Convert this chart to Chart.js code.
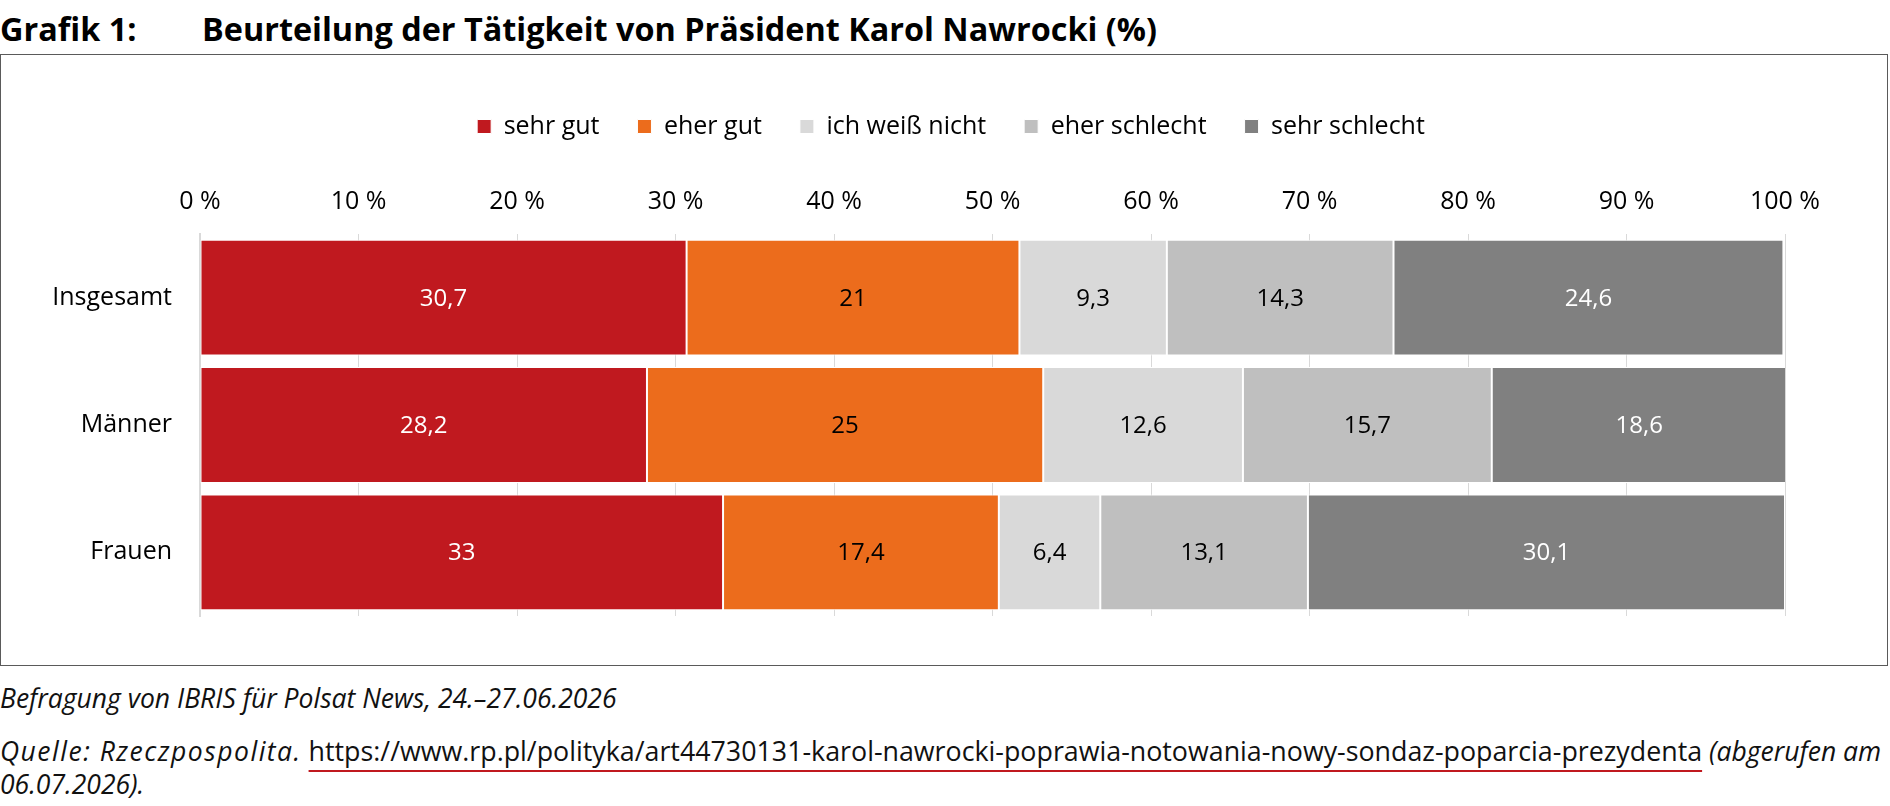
<!DOCTYPE html>
<html lang="de">
<head>
<meta charset="utf-8">
<title>Grafik 1</title>
<script src="https://cdn.jsdelivr.net/npm/chart.js@4/dist/chart.umd.min.js"></script>
<style>
  html, body { margin: 0; padding: 0; background: #fff; }
  body { width: 1890px; height: 806px; position: relative; overflow: hidden; font-family: "Open Sans", sans-serif; color: #000; }
  .title { position: absolute; top: 8px; font-weight: 700; font-size: 32.4px; line-height: 40px; white-space: nowrap; }
  #box { position: absolute; left: 0; top: 54px; width: 1886px; height: 610px; border: 1.5px solid #5a5a5a; }
  #box canvas { display: block; }
  .foot { position: absolute; left: 0; font-size: 26.5px; line-height: 33px; font-style: italic; white-space: nowrap; color: #111; }
  .foot .src { letter-spacing: 1.5px; }
  .foot a { font-style: normal; font-size: 26.8px; color: #111; text-decoration: underline; text-decoration-color: #C0191F; text-underline-offset: 9px; text-decoration-thickness: 1.5px; }
</style>
</head>
<body>
<div class="title" style="left:0">Grafik 1:</div>
<div class="title" style="left:202px">Beurteilung der Tätigkeit von Präsident Karol Nawrocki (%)</div>
<div id="box"><canvas id="myChart" width="1886" height="610"></canvas></div>
<div class="foot" style="top:682px">Befragung von IBRIS für Polsat News, 24.–27.06.2026</div>
<div class="foot" style="top:734px"><span class="src">Quelle: Rzeczpospolita.</span> <a>https://www.rp.pl/polityka/art44730131-karol-nawrocki-poprawia-notowania-nowy-sondaz-poparcia-prezydenta</a> (abgerufen am<br>06.07.2026).</div>
<script>
'use strict';

// DATA
let categories = ['Insgesamt', 'Männer', 'Frauen'];
let seriesNames = ['sehr gut', 'eher gut', 'ich weiß nicht', 'eher schlecht', 'sehr schlecht'];
let sehrGut = [30.7, 28.2, 33];
let eherGut = [21, 25, 17.4];
let weissNicht = [9.3, 12.6, 6.4];
let eherSchlecht = [14.3, 15.7, 13.1];
let sehrSchlecht = [24.6, 18.6, 30.1];
let tickValues = [0, 10, 20, 30, 40, 50, 60, 70, 80, 90, 100];

// STYLES
let seriesColors = ['#C0191F', '#EC6C1C', '#D9D9D9', '#BFBFBF', '#808080'];
let labelColors = ['#fff', '#000', '#000', '#000', '#fff'];
let fontFamily = '"Open Sans", sans-serif';

let seriesValues = [sehrGut, eherGut, weissNicht, eherSchlecht, sehrSchlecht];

// value labels inside the bars
let barLabels = {
  id: 'barLabels',
  afterDatasetsDraw(chart) {
    let ctx = chart.ctx;
    ctx.save();
    ctx.font = '24px ' + fontFamily;
    ctx.textAlign = 'center';
    ctx.textBaseline = 'middle';
    chart.data.datasets.forEach(function (ds, i) {
      let meta = chart.getDatasetMeta(i);
      meta.data.forEach(function (bar, j) {
        ctx.fillStyle = labelColors[i];
        let txt = String(ds.data[j]).replace('.', ',');
        ctx.fillText(txt, (bar.x + bar.base) / 2, bar.y + 1);
      });
    });
    ctx.restore();
  }
};

// the legend in the original sits a bit right of the canvas centre
let legendShift = {
  id: 'legendShift',
  afterLayout(chart) {
    chart.legend.left += 58;
    chart.legend.right += 58;
  }
};

let datasets = [];
for (let i = 0; i < seriesNames.length; i++) {
  datasets.push({
    label: seriesNames[i],
    data: seriesValues[i],
    backgroundColor: seriesColors[i],
    borderColor: '#ffffff',
    borderWidth: 1,
    borderSkipped: false,
    barPercentage: 0.91,
    categoryPercentage: 1
  });
}

let canvasElem = document.getElementById('myChart').getContext('2d');

new Chart(canvasElem, {
  type: 'bar',
  data: { labels: categories, datasets: datasets },
  plugins: [barLabels, legendShift],
  options: {
    indexAxis: 'y',
    responsive: false,
    animation: false,
    layout: { padding: { top: 21, right: 102, bottom: 49, left: 0 } },
    plugins: {
      legend: {
        position: 'top',
        labels: {
          font: { family: fontFamily, size: 25 },
          color: '#000',
          boxWidth: 14,
          boxHeight: 14,
          padding: 38
        }
      },
      tooltip: { enabled: false }
    },
    scales: {
      x: {
        position: 'top',
        stacked: true,
        min: 0,
        max: 100,
        afterBuildTicks: function (scale) {
          scale.ticks = tickValues.map(function (v) { return { value: v }; });
        },
        afterFit: function (scale) { scale.height += 21; },
        ticks: {
          font: { family: fontFamily, size: 25 },
          color: '#000',
          padding: 17,
          callback: function (v) { return v + ' %'; }
        },
        grid: { color: '#D9D9D9', lineWidth: 1, drawTicks: false },
        border: { display: false }
      },
      y: {
        stacked: true,
        afterFit: function (scale) { scale.width = 199; },
        ticks: {
          font: { family: fontFamily, size: 25 },
          color: '#000',
          padding: 20
        },
        grid: { display: false },
        border: { display: true, color: '#D9D9D9', width: 2 }
      }
    }
  }
});
</script>
</body>
</html>
